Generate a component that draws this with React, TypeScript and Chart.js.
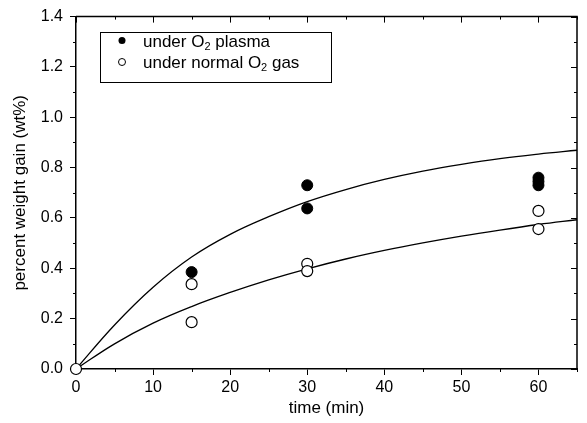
import React, { useEffect, useRef } from 'react';
import { Chart, registerables } from 'chart.js';

Chart.register(...registerables);

// ---- data ----
const plasmaTimes = [15, 30, 30, 60, 60, 60];
const plasmaValues = [0.385, 0.73, 0.638, 0.76, 0.745, 0.73];
const gasTimes = [0, 15, 15, 30, 30, 60, 60];
const gasValues = [0, 0.337, 0.186, 0.418, 0.389, 0.628, 0.556];
const fitTimes = [0, 5, 10, 15, 20, 25, 30, 35, 40, 45, 50, 55, 60, 65];
const fitPlasmaValues = [0, 0.175, 0.325, 0.445, 0.535, 0.605, 0.665, 0.713, 0.753, 0.786, 0.813, 0.836, 0.854, 0.869];
const fitGasValues = [0, 0.1, 0.182, 0.248, 0.304, 0.354, 0.398, 0.437, 0.471, 0.501, 0.528, 0.552, 0.574, 0.593];
const xTickValues = [0, 10, 20, 30, 40, 50, 60];
const xMinorValues = [5, 15, 25, 35, 45, 55, 65];
const yTickValues = [0, 0.2, 0.4, 0.6, 0.8, 1.0, 1.2, 1.4];
const yMinorValues = [0.1, 0.3, 0.5, 0.7, 0.9, 1.1, 1.3];
const legendPlasma = ['under O', '2', ' plasma'];
const legendGas = ['under normal O', '2', ' gas'];
const xTitle = 'time (min)';
const yTitle = 'percent weight gain (wt%)';

const FONT = "'Liberation Sans', Arial, Helvetica, sans-serif";

const framePlugin = {
  id: 'frameTicks',
  afterDraw(chart: any) {
    const { ctx, chartArea: a, scales } = chart;
    const xs = scales.x;
    const ys = scales.y;
    ctx.save();
    ctx.strokeStyle = '#000';
    ctx.lineWidth = 1.5;
    ctx.beginPath();
    ctx.moveTo(a.left, a.top);
    ctx.lineTo(a.right, a.top);
    ctx.lineTo(a.right, a.bottom);
    ctx.stroke();
    ctx.lineWidth = 1;
    ctx.beginPath();
    xTickValues.forEach((v) => {
      const px = Math.round(xs.getPixelForValue(v)) + 0.5;
      ctx.moveTo(px, a.top);
      ctx.lineTo(px, a.top + 6);
    });
    yTickValues.forEach((v) => {
      const py = Math.round(ys.getPixelForValue(v)) + 0.5;
      ctx.moveTo(a.right, py);
      ctx.lineTo(a.right - 6, py);
    });
    xMinorValues.forEach((v) => {
      const px = Math.round(xs.getPixelForValue(v)) + 0.5;
      ctx.moveTo(px, a.bottom);
      ctx.lineTo(px, a.bottom + 3);
      ctx.moveTo(px, a.top);
      ctx.lineTo(px, a.top + 3);
    });
    yMinorValues.forEach((v) => {
      const py = Math.round(ys.getPixelForValue(v)) + 0.5;
      ctx.moveTo(a.left, py);
      ctx.lineTo(a.left - 3, py);
      ctx.moveTo(a.right, py);
      ctx.lineTo(a.right - 3, py);
    });
    ctx.stroke();

    // legend box
    const bx = 100, by = 32, bw = 231, bh = 50;
    ctx.fillStyle = '#fff';
    ctx.fillRect(bx, by, bw, bh);
    ctx.lineWidth = 1;
    ctx.strokeRect(bx + 0.5, by + 0.5, bw, bh);
    const rows = [
      { parts: legendPlasma, y: 40.5, filled: true },
      { parts: legendGas, y: 62, filled: false },
    ];
    rows.forEach((r) => {
      ctx.beginPath();
      ctx.arc(122, r.y, 3.5, 0, Math.PI * 2);
      if (r.filled) {
        ctx.fillStyle = '#000';
        ctx.fill();
      } else {
        ctx.fillStyle = '#fff';
        ctx.fill();
        ctx.lineWidth = 1;
        ctx.stroke();
      }
      ctx.fillStyle = '#000';
      ctx.textBaseline = 'alphabetic';
      ctx.textAlign = 'left';
      let x = 143;
      const base = r.y + 6;
      ctx.font = `17px ${FONT}`;
      ctx.fillText(r.parts[0], x, base);
      x += ctx.measureText(r.parts[0]).width;
      ctx.font = `11px ${FONT}`;
      ctx.fillText(r.parts[1], x, base + 3);
      x += ctx.measureText(r.parts[1]).width;
      ctx.font = `17px ${FONT}`;
      ctx.fillText(r.parts[2], x, base);
    });
    ctx.restore();
  },
};

export default function App() {
  const ref = useRef<HTMLCanvasElement | null>(null);
  useEffect(() => {
    if (!ref.current) return;
    const pts = (xs: number[], ys: number[]) => xs.map((x, i) => ({ x, y: ys[i] }));
    const chart = new Chart(ref.current, {
      type: 'scatter',
      data: {
        datasets: [
          {
            label: 'under O2 plasma',
            data: pts(plasmaTimes, plasmaValues),
            pointRadius: 5.5,
            pointBackgroundColor: '#000',
            pointBorderColor: '#000',
            pointBorderWidth: 1,
            showLine: false,
            clip: false,
          } as any,
          {
            label: 'under normal O2 gas',
            data: pts(gasTimes, gasValues),
            pointRadius: 5.5,
            pointBackgroundColor: '#fff',
            pointBorderColor: '#000',
            pointBorderWidth: 1.2,
            showLine: false,
            clip: false,
          },
          {
            label: 'fit plasma',
            data: pts(fitTimes, fitPlasmaValues),
            showLine: true,
            pointRadius: 0,
            borderColor: '#000',
            borderWidth: 1.3,
            tension: 0.4,
          },
          {
            label: 'fit gas',
            data: pts(fitTimes, fitGasValues),
            showLine: true,
            pointRadius: 0,
            borderColor: '#000',
            borderWidth: 1.3,
            tension: 0.4,
          },
        ],
      },
      options: {
        responsive: false,
        animation: false,
        layout: { padding: { top: 13, right: 10, left: 0, bottom: 0 } },
        plugins: { legend: { display: false }, tooltip: { enabled: false } },
        scales: {
          x: {
            type: 'linear',
            min: 0,
            max: 65,
            afterBuildTicks: (s: any) => {
              s.ticks = xTickValues.map((v) => ({ value: v }));
            },
            afterFit: (s: any) => {
              s.height = 54;
            },
            grid: { display: true, drawOnChartArea: false, drawTicks: true, tickLength: 6, color: '#000', lineWidth: 1 },
            border: { display: true, color: '#000', width: 1.5 },
            ticks: { color: '#000', font: { size: 16, family: FONT }, padding: 3, maxRotation: 0, autoSkip: false },
            title: { display: true, text: xTitle, color: '#000', font: { size: 17, family: FONT }, padding: { top: 0, bottom: 4 } },
          },
          y: {
            type: 'linear',
            min: 0,
            max: 1.4,
            afterBuildTicks: (s: any) => {
              s.ticks = yTickValues.map((v) => ({ value: v }));
            },
            afterFit: (s: any) => {
              s.width = 76;
            },
            grid: { display: true, drawOnChartArea: false, drawTicks: true, tickLength: 6, color: '#000', lineWidth: 1 },
            border: { display: true, color: '#000', width: 1.5 },
            ticks: {
              color: '#000',
              font: { size: 16, family: FONT },
              padding: 7,
              autoSkip: false,
              callback: (v: any) => Number(v).toFixed(1),
            },
            title: { display: true, text: yTitle, color: '#000', font: { size: 17, family: FONT }, padding: { top: 10, bottom: 0 } },
          },
        },
      },
      plugins: [framePlugin],
    });
    return () => chart.destroy();
  }, []);
  return (
    <div style={{ position: 'fixed', left: 0, top: 0, width: 587, height: 423, background: '#fff' }}>
      <canvas ref={ref} width={587} height={423} style={{ display: 'block' }} />
    </div>
  );
}
